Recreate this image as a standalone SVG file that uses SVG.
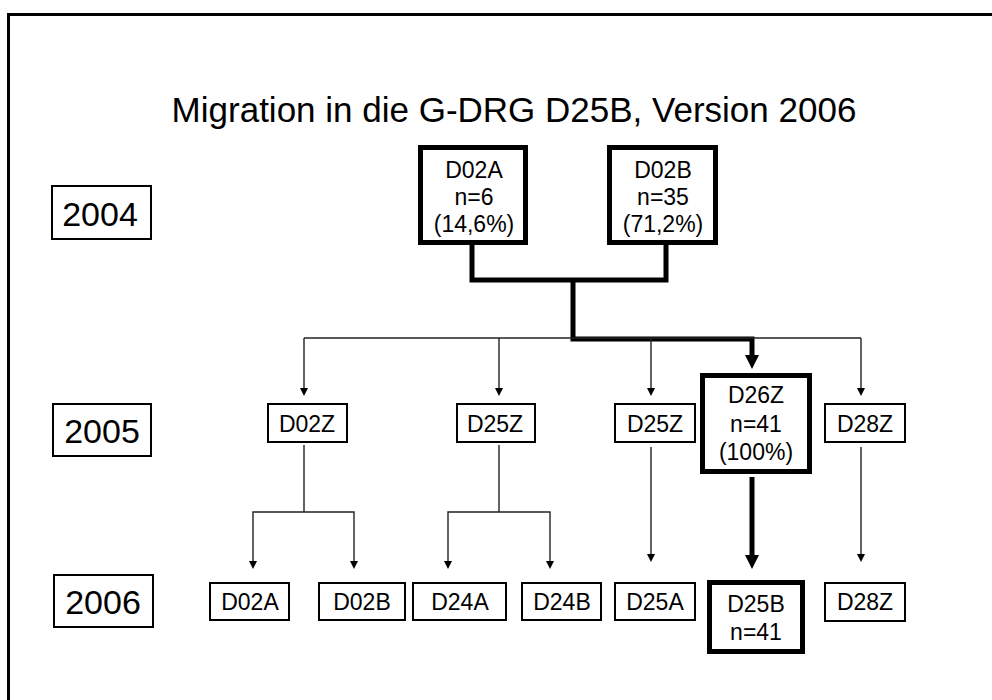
<svg xmlns="http://www.w3.org/2000/svg" width="992" height="700" viewBox="0 0 992 700">
  <style>
    text { font-family: "Liberation Sans", Arial, sans-serif; fill: #000; text-anchor: middle; }
    .title { font-size: 35px; }
    .year { font-size: 34px; }
    .lbl { font-size: 23px; }
    .box { fill: #fff; stroke: #000; stroke-width: 2; }
    .bold { fill: #fff; stroke: #000; stroke-width: 5; }
    .thin { fill: none; stroke: #222; stroke-width: 1.4; }
    .thick { fill: none; stroke: #000; stroke-width: 5; stroke-linejoin: miter; }
    .head { fill: #000; }
  </style>

  <rect width="992" height="700" fill="#fff"/>
  <!-- outer frame (open to the right and bottom) -->
  <path d="M8.5,710 V14.5 H1000" fill="none" stroke="#000" stroke-width="3"/>

  <text class="title" x="514" y="122">Migration in die G-DRG D25B, Version 2006</text>

  <!-- year labels -->
  <g id="year-2004"><rect class="box" x="52" y="186" width="99" height="53"/><text class="year" x="100" y="226">2004</text></g>
  <g id="year-2005"><rect class="box" x="53" y="404" width="98" height="52"/><text class="year" x="102" y="443">2005</text></g>
  <g id="year-2006"><rect class="box" x="54" y="575" width="99" height="52"/><text class="year" x="103" y="614">2006</text></g>

  <!-- connectors -->
  <g id="connectors">
    <!-- 2004 -> D26Z (bold path) -->
    <path class="thick" d="M472,245 V280 H666 V245"/>
    <path class="thick" d="M573,280 V339 H752 V356"/>
    <polygon class="head" points="745,355 759,355 752,369"/>
    <!-- thin distribution bar -->
    <path class="thin" d="M304,338 H861"/>
    <path class="thin" d="M304,338 V389 M499,338 V389 M651,338 V389 M861,338 V389"/>
    <polygon class="head" points="300,388 308,388 304,396"/>
    <polygon class="head" points="495,388 503,388 499,396"/>
    <polygon class="head" points="647,388 655,388 651,396"/>
    <polygon class="head" points="857,388 865,388 861,396"/>
    <!-- D02Z split -->
    <path class="thin" d="M304,445 V512 M253,562 V512 H354 V562"/>
    <polygon class="head" points="249,561 257,561 253,569"/>
    <polygon class="head" points="350,561 358,561 354,569"/>
    <!-- D25Z split -->
    <path class="thin" d="M499,445 V512 M448,562 V512 H550 V562"/>
    <polygon class="head" points="444,561 452,561 448,569"/>
    <polygon class="head" points="546,561 554,561 550,569"/>
    <!-- straight descents -->
    <path class="thin" d="M651,447 V555 M861,447 V555"/>
    <polygon class="head" points="647,554 655,554 651,562"/>
    <polygon class="head" points="857,554 865,554 861,562"/>
    <!-- D26Z -> D25B (bold) -->
    <path class="thick" d="M752,477 V557"/>
    <polygon class="head" points="745,555 759,555 752,569"/>
  </g>

  <!-- 2004 nodes -->
  <g id="n2004-D02A">
    <rect class="bold" x="420.5" y="147.5" width="105" height="95"/>
    <text class="lbl" x="474" y="178">D02A</text>
    <text class="lbl" x="474" y="205">n=6</text>
    <text class="lbl" x="474" y="232">(14,6%)</text>
  </g>
  <g id="n2004-D02B">
    <rect class="bold" x="609.5" y="147.5" width="106" height="95"/>
    <text class="lbl" x="663" y="178">D02B</text>
    <text class="lbl" x="663" y="205">n=35</text>
    <text class="lbl" x="663" y="232">(71,2%)</text>
  </g>

  <!-- 2005 nodes -->
  <g id="n2005-D02Z"><rect class="box" x="268" y="404" width="79" height="38"/><text class="lbl" x="307" y="432">D02Z</text></g>
  <g id="n2005-D25Z-a"><rect class="box" x="457" y="404" width="78" height="38"/><text class="lbl" x="495" y="432">D25Z</text></g>
  <g id="n2005-D25Z-b"><rect class="box" x="615" y="404" width="80" height="38"/><text class="lbl" x="655" y="432">D25Z</text></g>
  <g id="n2005-D26Z">
    <rect class="bold" x="702.5" y="375.5" width="107" height="96"/>
    <text class="lbl" x="756" y="403">D26Z</text>
    <text class="lbl" x="756" y="432">n=41</text>
    <text class="lbl" x="756" y="460">(100%)</text>
  </g>
  <g id="n2005-D28Z"><rect class="box" x="825" y="404" width="80" height="38"/><text class="lbl" x="865" y="432">D28Z</text></g>

  <!-- 2006 nodes -->
  <g id="n2006-D02A"><rect class="box" x="210" y="583" width="79" height="37"/><text class="lbl" x="250" y="610">D02A</text></g>
  <g id="n2006-D02B"><rect class="box" x="319" y="583" width="86" height="37"/><text class="lbl" x="362" y="610">D02B</text></g>
  <g id="n2006-D24A"><rect class="box" x="413" y="583" width="93" height="37"/><text class="lbl" x="460" y="610">D24A</text></g>
  <g id="n2006-D24B"><rect class="box" x="522" y="583" width="79" height="37"/><text class="lbl" x="562" y="610">D24B</text></g>
  <g id="n2006-D25A"><rect class="box" x="615" y="583" width="80" height="37"/><text class="lbl" x="655" y="610">D25A</text></g>
  <g id="n2006-D25B">
    <rect class="bold" x="709.5" y="582.5" width="93" height="69"/>
    <text class="lbl" x="756" y="612">D25B</text>
    <text class="lbl" x="756" y="640">n=41</text>
  </g>
  <g id="n2006-D28Z"><rect class="box" x="825" y="583" width="80" height="38"/><text class="lbl" x="865" y="610">D28Z</text></g>
</svg>
